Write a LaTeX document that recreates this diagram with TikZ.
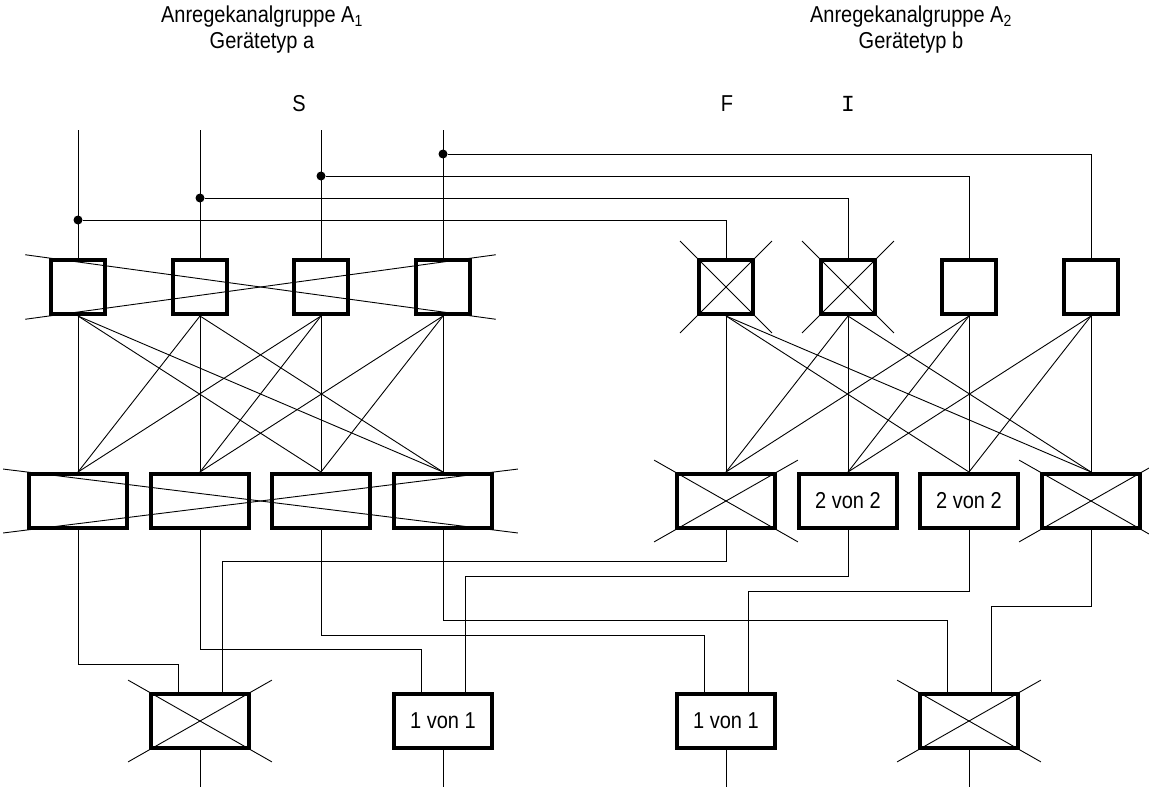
\documentclass[tikz,border=0pt]{standalone}
\usepackage{fontspec}
\setmainfont[FakeStretch=0.87]{Liberation Sans}
\newfontfamily\tyfont{Liberation Mono}
\begin{document}
\begin{tikzpicture}[x=1pt,y=-1pt]
		\tikzset{box/.style = {shape=rectangle,draw,line width=4pt,minimum width=54pt,minimum height=54pt,inner sep=0pt,font=\fontsize{23}{28}\selectfont}}
		\tikzset{wbox/.style = {box,minimum width=98pt}}
		\tikzset{dot/.style = {shape=circle,fill,inner sep=0pt,minimum size=9pt}}
		\tikzset{wire/.style = {line width=0.9pt}}
		\tikzset{xline/.style = {wire,shorten <=-24pt,shorten >=-24pt}}
		\tikzset{lbl/.style = {font=\fontsize{23}{26}\selectfont}}
		\useasboundingbox (0,0) rectangle (1149,787);
		% titles
		\node[lbl,align=center] (ha) at (262,30) {Anregekanalgruppe A\textsubscript{1}\\Gerätetyp a};
		\node[lbl,align=center] (hb) at (911,30) {Anregekanalgruppe A\textsubscript{2}\\Gerätetyp b};
		\node[lbl] (ls) at (299,104) {S};
		\node[lbl] (lf) at (727,104) {F};
		\node[lbl,font=\tyfont\fontsize{23}{26}\selectfont] (li) at (848,104) {I};
		% inputs
		\coordinate (ia1) at (78,130);
		\coordinate (ia2) at (200,130);
		\coordinate (ia3) at (321,130);
		\coordinate (ia4) at (443,130);
		\node[dot] (da1) at (78,220) {};
		\node[dot] (da2) at (200,198) {};
		\node[dot] (da3) at (321,176) {};
		\node[dot] (da4) at (443,154) {};
		% first stage
		\node[box] (a1) at (78,287) {};
		\node[box] (a2) at (200,287) {};
		\node[box] (a3) at (321,287) {};
		\node[box] (a4) at (443,287) {};
		\node[box] (b1) at (726,287) {};
		\node[box] (b2) at (848,287) {};
		\node[box] (b3) at (969,287) {};
		\node[box] (b4) at (1091,287) {};
		% second stage
		\node[wbox] (ma1) at (78,501) {};
		\node[wbox] (ma2) at (200,501) {};
		\node[wbox] (ma3) at (321,501) {};
		\node[wbox] (ma4) at (443,501) {};
		\node[wbox] (mb1) at (726,501) {};
		\node[wbox] (mb2) at (848,501) {2 von 2};
		\node[wbox] (mb3) at (969,501) {2 von 2};
		\node[wbox] (mb4) at (1091,501) {};
		% output stage
		\node[wbox] (o1) at (200,721) {};
		\node[wbox] (o2) at (443,721) {1 von 1};
		\node[wbox] (o3) at (726,721) {1 von 1};
		\node[wbox] (o4) at (969,721) {};
		\coordinate (q1) at (200,787);
		\coordinate (q2) at (443,787);
		\coordinate (q3) at (726,787);
		\coordinate (q4) at (969,787);
		% input wiring
		\draw[wire] (ia1) -- (a1);
		\draw[wire] (ia2) -- (a2);
		\draw[wire] (ia3) -- (a3);
		\draw[wire] (ia4) -- (a4);
		\draw[wire] (da1) -| (b1);
		\draw[wire] (da2) -| (b2);
		\draw[wire] (da3) -| (b3);
		\draw[wire] (da4) -| (b4);
		% crossed out
		\draw[xline] (a1.north west) -- (a4.south east);
		\draw[xline] (a1.south west) -- (a4.north east);
		\draw[xline] (ma1.north west) -- (ma4.south east);
		\draw[xline] (ma1.south west) -- (ma4.north east);
		\draw[xline] (b1.north west) -- (b1.south east);
		\draw[xline] (b1.south west) -- (b1.north east);
		\draw[xline] (b2.north west) -- (b2.south east);
		\draw[xline] (b2.south west) -- (b2.north east);
		\draw[xline] (mb1.north west) -- (mb1.south east);
		\draw[xline] (mb1.south west) -- (mb1.north east);
		\draw[xline] (mb4.north west) -- (mb4.south east);
		\draw[xline] (mb4.south west) -- (mb4.north east);
		\draw[xline] (o1.north west) -- (o1.south east);
		\draw[xline] (o1.south west) -- (o1.north east);
		\draw[xline] (o4.north west) -- (o4.south east);
		\draw[xline] (o4.south west) -- (o4.north east);
		% stage 1 to stage 2
		\path[draw,wire] (a1.south) edge (ma1.north) edge (ma3.north) edge (ma4.north);
		\path[draw,wire] (a2.south) edge (ma1.north) edge (ma2.north) edge (ma4.north);
		\path[draw,wire] (a3.south) edge (ma1.north) edge (ma2.north) edge (ma3.north);
		\path[draw,wire] (a4.south) edge (ma2.north) edge (ma3.north) edge (ma4.north);
		\path[draw,wire] (b1.south) edge (mb1.north) edge (mb3.north) edge (mb4.north);
		\path[draw,wire] (b2.south) edge (mb1.north) edge (mb2.north) edge (mb4.north);
		\path[draw,wire] (b3.south) edge (mb1.north) edge (mb2.north) edge (mb3.north);
		\path[draw,wire] (b4.south) edge (mb2.north) edge (mb3.north) edge (mb4.north);
		% stage 2 to outputs
		\draw[wire] (ma1.south) -- ++(0,134) -| ([xshift=-22pt]o1.north);
		\draw[wire] (mb1.south) -- ++(0,31) -| ([xshift=22pt]o1.north);
		\draw[wire] (ma2.south) -- ++(0,119) -| ([xshift=-22pt]o2.north);
		\draw[wire] (mb2.south) -- ++(0,46) -| ([xshift=22pt]o2.north);
		\draw[wire] (ma3.south) -- ++(0,105) -| ([xshift=-22pt]o3.north);
		\draw[wire] (mb3.south) -- ++(0,61) -| ([xshift=22pt]o3.north);
		\draw[wire] (ma4.south) -- ++(0,90) -| ([xshift=-22pt]o4.north);
		\draw[wire] (mb4.south) -- ++(0,76) -| ([xshift=22pt]o4.north);
		\draw[wire] (o1) -- (q1);
		\draw[wire] (o2) -- (q2);
		\draw[wire] (o3) -- (q3);
		\draw[wire] (o4) -- (q4);
	\end{tikzpicture}
\end{document}
